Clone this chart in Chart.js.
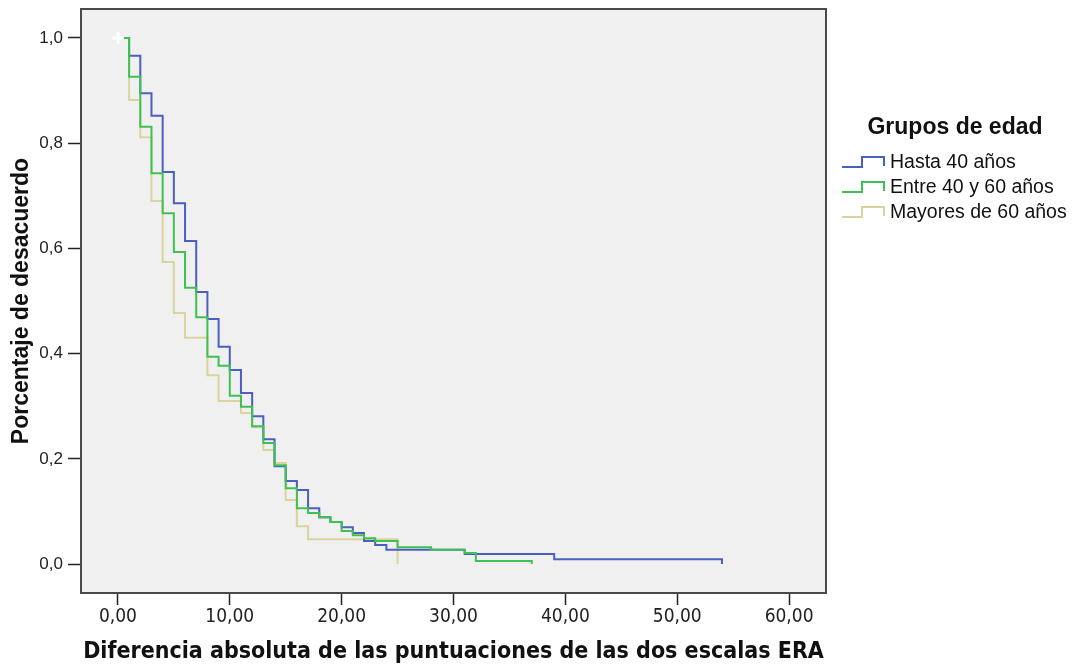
<!DOCTYPE html>
<html>
<head>
<meta charset="utf-8">
<script src="https://cdn.jsdelivr.net/npm/chart.js@4.4.0/dist/chart.umd.min.js"></script>
<style>
  body { margin: 0; background: #fff; }
  canvas { display: block; }
</style>
</head>
<body>
<canvas id="kmChart" width="1078" height="668"></canvas>
<script>
// Axis ticks
const xTicks = [0, 10, 20, 30, 40, 50, 60];
const xTickLabels = ['0,00', '10,00', '20,00', '30,00', '40,00', '50,00', '60,00'];
const yTicks = [0, 0.2, 0.4, 0.6, 0.8, 1.0];
const yTickLabels = ['0,0', '0,2', '0,4', '0,6', '0,8', '1,0'];

// Groups (legend)
const groups = ['Hasta 40 años', 'Entre 40 y 60 años', 'Mayores de 60 años'];

// Kaplan-Meier steps: time and value after the step
const hastaX = [0, 1, 2, 3, 4, 5, 6, 7, 8, 9, 10, 11, 12, 13, 14, 15, 16, 17, 18, 19, 20, 21, 22, 23, 24, 31, 39, 54];
const hastaY = [1.0, 0.966, 0.895, 0.852, 0.745, 0.686, 0.614, 0.517, 0.466, 0.413, 0.369, 0.325, 0.281, 0.237, 0.186, 0.158, 0.141, 0.106, 0.089, 0.080, 0.070, 0.059, 0.044, 0.036, 0.027, 0.019, 0.009, 0];

const entreX = [0, 1, 2, 3, 4, 5, 6, 7, 8, 9, 10, 11, 12, 13, 14, 15, 16, 17, 18, 19, 20, 21, 22, 23, 25, 28, 31, 32, 37];
const entreY = [1.0, 0.926, 0.831, 0.743, 0.667, 0.593, 0.525, 0.469, 0.394, 0.377, 0.320, 0.299, 0.262, 0.230, 0.188, 0.144, 0.106, 0.097, 0.089, 0.080, 0.063, 0.055, 0.049, 0.044, 0.032, 0.027, 0.021, 0.006, 0];

const mayoresX = [0, 1, 2, 3, 4, 5, 6, 8, 9, 11, 12, 13, 14, 15, 16, 17, 25];
const mayoresY = [1.0, 0.882, 0.811, 0.690, 0.574, 0.477, 0.430, 0.359, 0.310, 0.287, 0.260, 0.217, 0.192, 0.122, 0.072, 0.047, 0];

// Censored mark
const censorX = [0];
const censorY = [1.0];

const colors = ['#4b5fc0', '#3fc052', '#d9d49e'];

function toPoints(xs, ys) {
  return xs.map((x, i) => ({ x: x, y: ys[i] }));
}

// plot background + frame + legend
const framePlugin = {
  id: 'frame',
  beforeDraw(chart) {
    const { ctx, chartArea: a } = chart;
    ctx.save();
    ctx.fillStyle = '#f0f0f0';
    ctx.fillRect(a.left, a.top, a.right - a.left, a.bottom - a.top);
    ctx.restore();
  },
  afterDraw(chart) {
    const { ctx, chartArea: a } = chart;
    ctx.save();
    ctx.strokeStyle = '#4a4a4a';
    ctx.lineWidth = 2;
    ctx.strokeRect(a.left, a.top, a.right - a.left, a.bottom - a.top);

    // legend
    ctx.fillStyle = '#111';
    ctx.font = 'bold 23px "Liberation Sans", Arial, sans-serif';
    ctx.textAlign = 'center';
    ctx.textBaseline = 'middle';
    ctx.fillText('Grupos de edad', 955, 128);

    ctx.font = '19.5px "Liberation Sans", Arial, sans-serif';
    ctx.textAlign = 'left';
    groups.forEach((g, i) => {
      const cy = 163 + i * 25;
      ctx.strokeStyle = colors[i];
      ctx.lineWidth = 2;
      ctx.beginPath();
      ctx.moveTo(842, cy + 4);
      ctx.lineTo(862, cy + 4);
      ctx.lineTo(862, cy - 6);
      ctx.lineTo(884, cy - 6);
      ctx.lineTo(884, cy + 3);
      ctx.stroke();
      ctx.fillStyle = '#111';
      ctx.fillText(g, 890, cy);
    });
    ctx.restore();
  }
};

const ctx = document.getElementById('kmChart').getContext('2d');
const kmChart = new Chart(ctx, {
  type: 'line',
  data: {
    datasets: [
      {
        label: 'censor',
        data: toPoints(censorX, censorY),
        showLine: false,
        pointStyle: 'cross',
        pointRadius: 6,
        pointBorderWidth: 3,
        pointBorderColor: '#ffffff',
        order: 0
      },
      {
        label: groups[1],
        data: toPoints(entreX, entreY),
        borderColor: colors[1],
        order: 1
      },
      {
        label: groups[0],
        data: toPoints(hastaX, hastaY),
        borderColor: colors[0],
        order: 2
      },
      {
        label: groups[2],
        data: toPoints(mayoresX, mayoresY),
        borderColor: colors[2],
        order: 3
      }
    ]
  },
  options: {
    responsive: false,
    animation: false,
    layout: { padding: { top: 9, right: 252, left: 0, bottom: 0 } },
    elements: {
      line: { stepped: 'before', borderWidth: 2, fill: false, tension: 0 },
      point: { radius: 0, hoverRadius: 0 }
    },
    plugins: {
      legend: { display: false },
      tooltip: { enabled: false }
    },
    scales: {
      x: {
        type: 'linear',
        min: -3.3,
        max: 63.3,
        afterBuildTicks: s => { s.ticks = xTicks.map(v => ({ value: v })); },
        afterFit: s => { s.height = 75; s.paddingLeft = 0; s.paddingRight = 0; },
        border: { display: false },
        grid: { drawOnChartArea: false, drawTicks: true, tickLength: 12, tickColor: '#222', tickWidth: 1.5 },
        ticks: {
          autoSkip: false,
          maxRotation: 0,
          padding: 1,
          color: '#222',
          font: { family: '"Liberation Sans Narrow", "DejaVu Sans Condensed", Arial, sans-serif', size: 19 },
          callback: (v, i) => xTickLabels[i]
        },
        title: {
          display: true,
          text: 'Diferencia absoluta de las puntuaciones de las dos escalas ERA',
          color: '#111',
          font: { family: '"Liberation Sans Narrow", "DejaVu Sans Condensed", Arial, sans-serif', size: 23, weight: 'bold' },
          padding: { top: 0, bottom: 2 }
        }
      },
      y: {
        type: 'linear',
        min: -0.055,
        max: 1.055,
        afterBuildTicks: s => { s.ticks = yTicks.map(v => ({ value: v })); },
        afterFit: s => { s.width = 81; s.paddingTop = 0; s.paddingBottom = 0; },
        border: { display: false },
        grid: { drawOnChartArea: false, drawTicks: true, tickLength: 13, tickColor: '#222', tickWidth: 1.5 },
        ticks: {
          autoSkip: false,
          padding: 5,
          color: '#222',
          font: { family: '"Liberation Sans", Arial, sans-serif', size: 17 },
          callback: (v, i) => yTickLabels[i]
        },
        title: {
          display: true,
          text: 'Porcentaje de desacuerdo',
          color: '#111',
          font: { family: '"Liberation Sans", Arial, sans-serif', size: 23, weight: 'bold' },
          padding: { top: 8, bottom: 0 }
        }
      }
    }
  },
  plugins: [framePlugin]
});
</script>
</body>
</html>
